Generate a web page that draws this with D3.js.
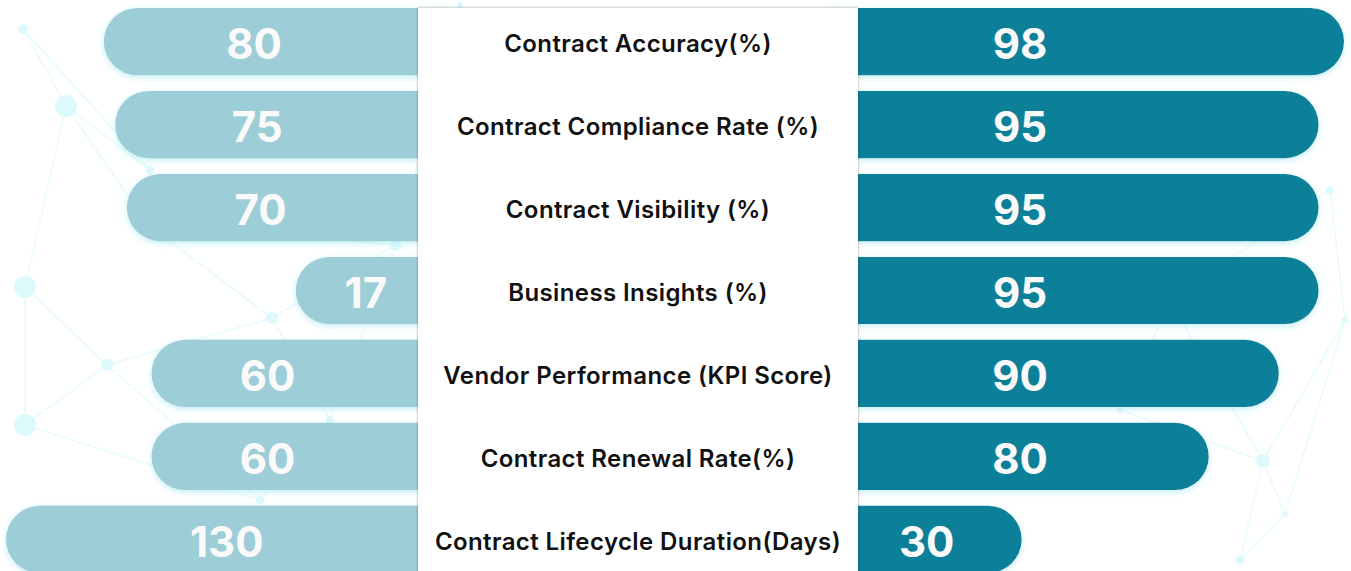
<!DOCTYPE html>
<html>
<head>
<meta charset="utf-8">
<script src="https://cdn.jsdelivr.net/npm/d3@7"></script>
<style>
  html, body { margin: 0; padding: 0; background: #ffffff; overflow: hidden; }
  svg { display: block; }
</style>
</head>
<body>
<div id="chart"></div>
<script>
// metrics, before (left) and after (right)
const metrics = [
  "Contract Accuracy(%)",
  "Contract Compliance Rate (%)",
  "Contract Visibility (%)",
  "Business Insights (%)",
  "Vendor Performance (KPI Score)",
  "Contract Renewal Rate(%)",
  "Contract Lifecycle Duration(Days)"
];
const beforeValues = [80, 75, 70, 17, 60, 60, 130];
const afterValues = [98, 95, 95, 95, 90, 80, 30];

// faint network pattern in the background (decoration only)
const bgNodes = [
  [23, 29, 5], [66, 106, 11], [148, 225, 4], [25, 287, 11], [107, 365, 6], [25, 425, 11],
  [272, 318, 6], [396, 245, 6], [150, 170, 4], [260, 500, 4], [330, 420, 4],
  [1263, 461, 7], [1285, 514, 3], [1170, 300, 4], [1330, 190, 4], [1240, 560, 4],
  [1120, 410, 3], [1345, 320, 3], [460, 5, 3], [900, 40, 3]
];
const bgLinks = [
  [0, 1], [1, 2], [1, 3], [3, 4], [3, 5], [4, 5], [2, 6], [4, 6], [2, 7], [6, 7], [0, 8], [1, 8],
  [8, 2], [4, 9], [9, 10], [6, 10], [5, 9], [11, 12], [11, 13], [11, 15], [12, 15], [13, 14],
  [13, 16], [16, 11], [14, 17], [17, 11], [12, 17], [7, 10], [18, 7]
];

const width = 1351, height = 571;
const colLeft = 418, colRight = 858;

const svg = d3.select("#chart")
  .append("svg")
  .attr("width", width)
  .attr("height", height);

const defs = svg.append("defs");
const glow = defs.append("filter").attr("id", "glow")
  .attr("x", "-10%").attr("y", "-30%").attr("width", "120%").attr("height", "160%");
glow.append("feDropShadow")
  .attr("dx", 0).attr("dy", 2).attr("stdDeviation", 3)
  .attr("flood-color", "#a8e8f2").attr("flood-opacity", 0.7);
const colShadow = defs.append("filter").attr("id", "colShadow")
  .attr("x", "-5%").attr("y", "-5%").attr("width", "110%").attr("height", "110%");
colShadow.append("feDropShadow")
  .attr("dx", 0).attr("dy", 0).attr("stdDeviation", 1.5)
  .attr("flood-color", "#000").attr("flood-opacity", 0.35);

// background network
const net = svg.append("g");
net.selectAll("line")
  .data(bgLinks)
  .enter().append("line")
  .attr("x1", d => bgNodes[d[0]][0])
  .attr("y1", d => bgNodes[d[0]][1])
  .attr("x2", d => bgNodes[d[1]][0])
  .attr("y2", d => bgNodes[d[1]][1])
  .attr("stroke", "#e6fbfd")
  .attr("stroke-width", 1.5);
net.selectAll("circle")
  .data(bgNodes)
  .enter().append("circle")
  .attr("cx", d => d[0])
  .attr("cy", d => d[1])
  .attr("r", d => d[2])
  .attr("fill", "#dcf9fc");

// scales
const y = d3.scaleBand()
  .domain(metrics)
  .range([8, 573])
  .paddingInner(0.19)
  .paddingOuter(0);

// bar length in the design is not linear: sqrt on the left, power 2.5 on the right
const xLeft = d3.scaleSqrt()
  .domain([0, 130])
  .range([-42, 412]);
const xRight = d3.scalePow().exponent(2.5)
  .domain([0, 98])
  .range([146, 486]);

const bh = y.bandwidth();
const rows = metrics.map((m, i) => ({ metric: m, before: beforeValues[i], after: afterValues[i] }));

// left bars
svg.selectAll(".bar-left")
  .data(rows)
  .enter().append("rect")
  .attr("class", "bar-left")
  .attr("x", d => colLeft - xLeft(d.before))
  .attr("y", d => y(d.metric))
  .attr("width", d => xLeft(d.before) + 60)
  .attr("height", bh)
  .attr("rx", bh / 2)
  .attr("fill", "#9dcdd7")
  .attr("filter", "url(#glow)");

// right bars
svg.selectAll(".bar-right")
  .data(rows)
  .enter().append("rect")
  .attr("class", "bar-right")
  .attr("x", colRight - 60)
  .attr("y", d => y(d.metric))
  .attr("width", d => xRight(d.after) + 60)
  .attr("height", bh)
  .attr("rx", bh / 2)
  .attr("fill", "#0b8099")
  .attr("filter", "url(#glow)");

// center column
svg.append("rect")
  .attr("x", colLeft)
  .attr("y", 8)
  .attr("width", colRight - colLeft)
  .attr("height", height + 20)
  .attr("fill", "#ffffff")
  .attr("filter", "url(#colShadow)");

// metric labels
svg.selectAll(".metric")
  .data(rows)
  .enter().append("text")
  .attr("class", "metric")
  .attr("x", (colLeft + colRight) / 2)
  .attr("y", d => y(d.metric) + bh / 2 + 4)
  .attr("text-anchor", "middle")
  .attr("dominant-baseline", "middle")
  .attr("font-family", "Inter, 'Open Sans', sans-serif")
  .attr("font-weight", 600)
  .attr("font-size", "24px")
  .attr("letter-spacing", "0.4px")
  .attr("fill", "#111")
  .text(d => d.metric);

// value labels
svg.selectAll(".val-left")
  .data(rows)
  .enter().append("text")
  .attr("class", "val-left")
  .attr("x", d => {
    const s = colLeft - xLeft(d.before);
    return Math.max(225 + 0.28 * s, s + 70);
  })
  .attr("y", d => y(d.metric) + bh / 2 + 6)
  .attr("text-anchor", "middle")
  .attr("dominant-baseline", "middle")
  .attr("font-family", "Inter, sans-serif")
  .attr("font-weight", 700)
  .attr("font-size", "42px")
  .attr("fill", "#fafafa")
  .text(d => d.before);

svg.selectAll(".val-right")
  .data(rows)
  .enter().append("text")
  .attr("class", "val-right")
  .attr("x", d => Math.min(1020, colRight + xRight(d.after) - 95))
  .attr("y", d => y(d.metric) + bh / 2 + 6)
  .attr("text-anchor", "middle")
  .attr("dominant-baseline", "middle")
  .attr("font-family", "Inter, sans-serif")
  .attr("font-weight", 700)
  .attr("font-size", "42px")
  .attr("fill", "#fafafa")
  .text(d => d.after);
</script>
</body>
</html>
